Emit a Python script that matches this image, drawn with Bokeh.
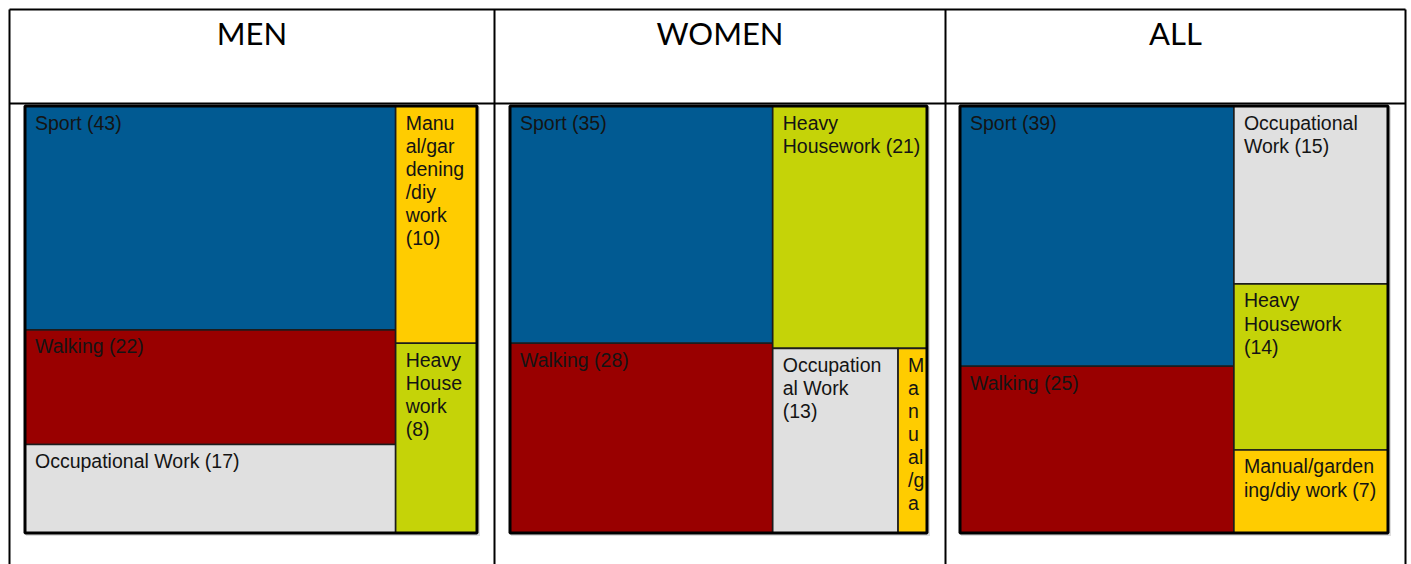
from bokeh.plotting import figure
from bokeh.models import Range1d, ColumnDataSource
from bokeh.embed import file_html
from bokeh.resources import INLINE
from bokeh.core.properties import value

# ---------------- data ----------------
panels = ["MEN", "WOMEN", "ALL"]
categories = ["Sport", "Walking", "Occupational Work", "Heavy Housework",
              "Manual/gardening/diy work"]
cat_colors = ["#015a92", "#990000", "#e0e0e0", "#c5d308", "#ffcc00"]

men_values = [43, 22, 17, 8, 10]
women_values = [35, 28, 13, 21, 3]
all_values = [39, 25, 15, 14, 7]

men_labels = ["Sport (43)", "Walking (22)", "Occupational Work (17)",
              "Heavy\nHouse\nwork\n(8)", "Manu\nal/gar\ndening\n/diy\nwork\n(10)"]
women_labels = ["Sport (35)", "Walking (28)", "Occupation\nal Work\n(13)",
                "Heavy\nHousework (21)", "M\na\nn\nu\nal\n/g\na"]
all_labels = ["Sport (39)", "Walking (25)", "Occupational\nWork (15)",
              "Heavy\nHousework\n(14)", "Manual/garden\ning/diy work (7)"]

# treemap nesting (category indices): columns, then stacks, then rows
men_layout = [[0, 1, 2], [4, 3]]
women_layout = [[0, 1], [3, [2, 4]]]
all_layout = [[0, 1], [2, 3, 4]]

# ---------------- page geometry (pixels) ----------------
W, H = 1411, 564
table_left, table_right, table_top, header_bottom = 9, 1405, 9, 103
col_lines = [494, 945]
panel_boxes = [(24.5, 105.5, 476.5, 532.5),
               (509.5, 105.5, 926.5, 532.5),
               (959.5, 105.5, 1387.5, 532.5)]

p = figure(width=W, height=H, x_range=Range1d(0, W), y_range=Range1d(H, 0),
           output_backend="svg", toolbar_location=None, min_border=0,
           outline_line_color=None, background_fill_color="white",
           border_fill_color="white")
p.axis.visible = False
p.xgrid.visible = False
p.ygrid.visible = False

# table lines
xs0 = [table_left, table_left, table_left] + col_lines + [table_right]
ys0 = [table_top, header_bottom, table_top] + [table_top] * len(col_lines) + [table_top]
xs1 = [table_right, table_right, table_left] + col_lines + [table_right]
ys1 = [table_top, header_bottom, H] + [H] * len(col_lines) + [H]
p.segment(x0=xs0, y0=ys0, x1=xs1, y1=ys1, line_color="black", line_width=2)

# header texts
col_edges = [table_left] + col_lines + [table_right]
hx = [(col_edges[i] + col_edges[i + 1]) / 2 for i in range(3)]
p.text(x=hx, y=[32.5] * 3, text=panels, text_align="center",
       text_baseline="alphabetic", text_font=value("Lato"),
       text_font_size="31px", text_color="black")


def tile(node, vals, x0, y0, x1, y1, horizontal, out):
    if isinstance(node, int):
        out.append((node, x0, y0, x1, y1))
        return

    def total(n):
        return vals[n] if isinstance(n, int) else sum(total(c) for c in n)

    tot = sum(total(c) for c in node)
    pos = x0 if horizontal else y0
    for c in node:
        frac = total(c) / tot
        if horizontal:
            w = (x1 - x0) * frac
            tile(c, vals, pos, y0, pos + w, y1, False, out)
        else:
            h = (y1 - y0) * frac
            tile(c, vals, x0, pos, x1, pos + h, True, out)
        pos += (x1 - x0) * frac if horizontal else (y1 - y0) * frac


all_sets = [(men_values, men_labels, men_layout),
            (women_values, women_labels, women_layout),
            (all_values, all_labels, all_layout)]

for (vals, labels, layout), box in zip(all_sets, panel_boxes):
    bx0, by0, bx1, by1 = box
    # soft shadow
    p.quad(left=[bx0 + 1], right=[bx1 + 3], top=[by0 + 1], bottom=[by1 + 3],
           fill_color="#bdbdbd", fill_alpha=0.5, line_color=None)
    rects = []
    tile(layout, vals, bx0, by0, bx1, by1, True, rects)
    src = ColumnDataSource(dict(
        left=[r[1] for r in rects], right=[r[3] for r in rects],
        top=[r[2] for r in rects], bottom=[r[4] for r in rects],
        color=[cat_colors[r[0]] for r in rects],
        label=[labels[r[0]] for r in rects],
        tx=[r[1] + 10 for r in rects], ty=[r[2] + 5.5 for r in rects],
    ))
    p.quad(left="left", right="right", top="top", bottom="bottom",
           fill_color="color", line_color="#1c1c1c", line_width=1.6, source=src)
    p.text(x="tx", y="ty", text="label", source=src, text_align="left",
           text_baseline="top", text_font=value("Liberation Sans"),
           text_font_size="19.5px", text_line_height=1.05, text_color="#141414")
    p.quad(left=[bx0], right=[bx1], top=[by0], bottom=[by1], fill_color=None,
           line_color="black", line_width=3)

open("out.html", "w").write(file_html(p, INLINE))
